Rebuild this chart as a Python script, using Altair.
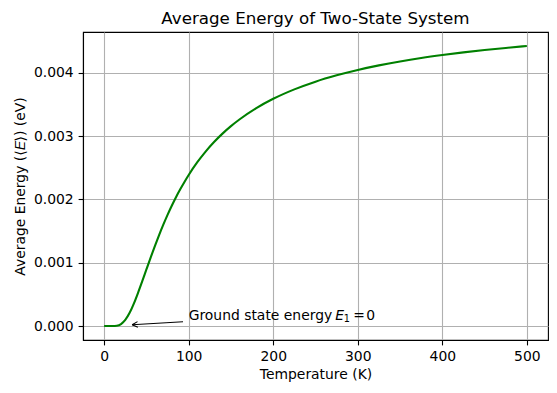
import altair as alt
import pandas as pd

# Temperature (K) and average energy <E> (eV)
temperature = [0, 5, 10, 15, 20, 25, 30, 35, 40, 45, 50, 55, 60, 65, 70, 75, 80, 85, 90, 95,
               100, 110, 120, 130, 140, 150, 160, 180, 200, 225, 250, 275, 300, 325, 350,
               375, 400, 425, 450, 475, 500]
energy = [0.0, 0.0, 0.0000001, 0.0000044, 0.0000301, 0.0000955, 0.000204, 0.000350, 0.000521,
          0.000705, 0.000894, 0.001081, 0.001263, 0.001436, 0.001600, 0.001755, 0.001899,
          0.002034, 0.002159, 0.002276, 0.002386, 0.002583, 0.002755, 0.002906, 0.003039,
          0.003157, 0.003262, 0.003442, 0.003589, 0.003738, 0.003860, 0.003960, 0.004045,
          0.004117, 0.004179, 0.004233, 0.004280, 0.004322, 0.004359, 0.004392, 0.004423]

x_ticks = [0, 100, 200, 300, 400, 500]
y_ticks = [0.0, 0.001, 0.002, 0.003, 0.004]

# annotation: text anchor and arrow (tail -> tip)
note_x = [100]
note_y = [0.0001]
arrow_x = [93.3, 33.1]
arrow_y = [0.000067, 0.00002]

FONT = "DejaVu Sans"
curve = pd.DataFrame({"T": temperature, "E": energy})
note = pd.DataFrame({"T": note_x, "E": note_y})
arrow = pd.DataFrame({"T": arrow_x, "E": arrow_y})
tip = arrow.iloc[[1]]

xs = alt.Scale(domain=[-25, 525], nice=False, zero=False)
ys = alt.Scale(domain=[-0.000221, 0.004644], nice=False, zero=False)

xax = alt.Axis(values=x_ticks, title="Temperature (K)", format="d", titlePadding=4)
yax = alt.Axis(values=y_ticks, title="Average Energy (⟨𝐸⟩) (eV)", format=".3f", titlePadding=6)

line = alt.Chart(curve).mark_line(color="#008000", strokeWidth=2.1, interpolate="monotone").encode(
    x=alt.X("T:Q", scale=xs, axis=xax),
    y=alt.Y("E:Q", scale=ys, axis=yax),
)

arrow_line = alt.Chart(arrow).mark_line(color="black", strokeWidth=1.1).encode(
    x=alt.X("T:Q", scale=xs), y=alt.Y("E:Q", scale=ys)
)
arrow_head = alt.Chart(tip).mark_point(
    shape="M0,0L1,-0.5M0,0L1,0.5", filled=False, color="black", strokeWidth=1.1,
    size=125, angle=356.6, opacity=1
).encode(x=alt.X("T:Q", scale=xs), y=alt.Y("E:Q", scale=ys))

def txt(s, dx=0, dy=0, size=13.9, style="normal"):
    return alt.Chart(note).mark_text(
        text=s, align="left", baseline="alphabetic", dx=dx, dy=dy,
        font=FONT, fontSize=size, fontStyle=style, color="black"
    ).encode(x=alt.X("T:Q", scale=xs), y=alt.Y("E:Q", scale=ys))

label = (txt("Ground state energy") + txt("E", dx=146.5, style="italic")
         + txt("1", dx=155, dy=2, size=9.7) + txt("=", dx=164.5) + txt("0", dx=177.5))

chart = alt.layer(line, arrow_line, arrow_head, label).properties(
    width=465, height=308,
    title=alt.TitleParams("Average Energy of Two-State System", fontSize=16.7,
                          font=FONT, fontWeight="normal", color="black", offset=4),
    autosize=alt.AutoSizeParams(type="none"),
    padding={"left": 75, "top": 24, "right": 1, "bottom": 45},
).configure_view(stroke="black", strokeWidth=1.1).configure_axis(
    labelFont=FONT, titleFont=FONT, labelFontSize=13.9, titleFontSize=13.9,
    titleFontWeight="normal", labelColor="black", titleColor="black",
    tickColor="black", tickWidth=1.1, tickSize=4.9, labelPadding=4.9,
    domainColor="black", domainWidth=1.1, gridColor="#b0b0b0", gridWidth=1.1,
    gridOpacity=1,
)

chart.save("out.html", embed_options={"renderer": "svg", "actions": False})
